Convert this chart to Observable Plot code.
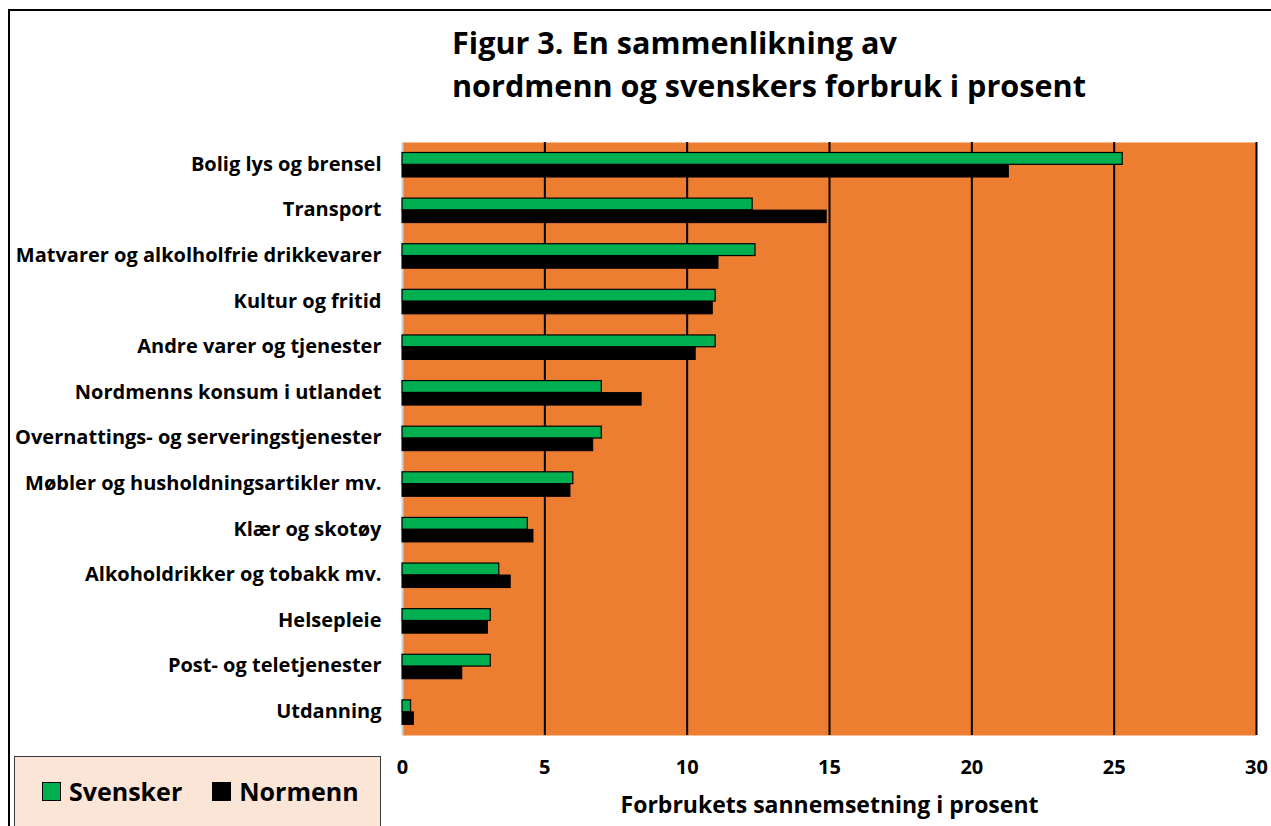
<!DOCTYPE html>
<html>
<head>
<meta charset="utf-8">
<script src="https://cdn.jsdelivr.net/npm/d3@7"></script>
<script src="https://cdn.jsdelivr.net/npm/@observablehq/plot@0.6"></script>
<style>
  html, body { margin: 0; padding: 0; background: #fff; }
  body { width: 1271px; height: 826px; overflow: hidden; position: relative; font-family: "Open Sans", Lato, sans-serif; }
  #frame { position: absolute; left: 8px; top: 9px; width: 1300px; height: 900px; border-left: 2px solid #000; border-top: 2px solid #000; box-sizing: border-box; }
  #title { position: absolute; left: 452px; top: 21px; font-size: 30.6px; line-height: 43px; font-weight: bold; color: #000; white-space: nowrap; }
  #chart { position: absolute; left: 0; top: 0; }
  #legend { position: absolute; left: 14px; top: 756px; width: 367px; height: 90px; background: #FBE5D6; border: 1.5px solid #3a3a3a; box-sizing: border-box; display: flex; align-items: flex-start; padding-top: 16px; padding-left: 27px; gap: 30px; }
  .item { display: flex; align-items: center; font-size: 25px; font-weight: bold; color: #000; gap: 8px; line-height: 36px; }
  .sw { width: 17px; height: 17px; border: 1px solid #000; box-sizing: content-box; }
</style>
</head>
<body>
<div id="frame"></div>
<div id="chart"></div>
<div id="title">Figur 3. En sammenlikning av<br>nordmenn og svenskers forbruk i prosent</div>
<div id="legend"></div>
<script>
const categories = [
  "Bolig lys og brensel",
  "Transport",
  "Matvarer og alkolholfrie drikkevarer",
  "Kultur og fritid",
  "Andre varer og tjenester",
  "Nordmenns konsum i utlandet",
  "Overnattings- og serveringstjenester",
  "Møbler og husholdningsartikler mv.",
  "Klær og skotøy",
  "Alkoholdrikker og tobakk mv.",
  "Helsepleie",
  "Post- og teletjenester",
  "Utdanning"
];
const svensker = [25.3, 12.3, 12.4, 11.0, 11.0, 7.0, 7.0, 6.0, 4.4, 3.4, 3.1, 3.1, 0.3];
const normenn  = [21.3, 14.9, 11.1, 10.9, 10.3, 8.4, 6.7, 5.9, 4.6, 3.8, 3.0, 2.1, 0.4];
const seriesNames = ["Svensker", "Normenn"];
const seriesColors = ["#00B050", "#000000"];
const xTicks = [0, 5, 10, 15, 20, 25, 30];
const gridValues = [5, 10, 15, 20, 25, 30];
const xLabel = "Forbrukets sannemsetning i prosent";

const svData = categories.map((c, i) => ({category: c, value: svensker[i]}));
const noData = categories.map((c, i) => ({category: c, value: normenn[i]}));

const chart = Plot.plot({
  width: 1271,
  height: 826,
  marginLeft: 402,
  marginRight: 15,
  marginTop: 142,
  marginBottom: 91,
  style: {fontFamily: "'Open Sans', sans-serif", fontWeight: "bold", fontSize: "18px", color: "#000", background: "transparent", overflow: "visible"},
  x: {domain: [0, 30]},
  y: {domain: categories, padding: 0, round: false},
  marks: [
    Plot.frame({fill: "#ED7D31", stroke: null}),
    Plot.ruleX([0], {stroke: "#d0d0d0", strokeWidth: 2}),
    Plot.ruleX(gridValues, {stroke: "#000", strokeWidth: 2}),
    Plot.barX(svData, {x: "value", y: "category", fill: seriesColors[0], stroke: "#000", strokeWidth: 1.2, insetTop: 10.5, insetBottom: 23.3}),
    Plot.barX(noData, {x: "value", y: "category", fill: seriesColors[1], stroke: "#000", strokeWidth: 1, insetTop: 22.5, insetBottom: 10.6}),
    Plot.axisY({tickSize: 0, tickPadding: 21, label: null, fontSize: 20, dy: -1}),
    Plot.axisX({ticks: xTicks, tickSize: 0, tickPadding: 24, label: null, fontSize: 20}),
    Plot.text([xLabel], {frameAnchor: "bottom", dy: 77, fontSize: 23, fontWeight: "bold", fill: "#000"})
  ]
});
document.getElementById("chart").appendChild(chart);

const legend = document.getElementById("legend");
seriesNames.forEach((name, i) => {
  const item = document.createElement("div");
  item.className = "item";
  const sw = document.createElement("div");
  sw.className = "sw";
  sw.style.background = seriesColors[i];
  const label = document.createElement("span");
  label.textContent = name;
  item.appendChild(sw);
  item.appendChild(label);
  legend.appendChild(item);
});
</script>
</body>
</html>
